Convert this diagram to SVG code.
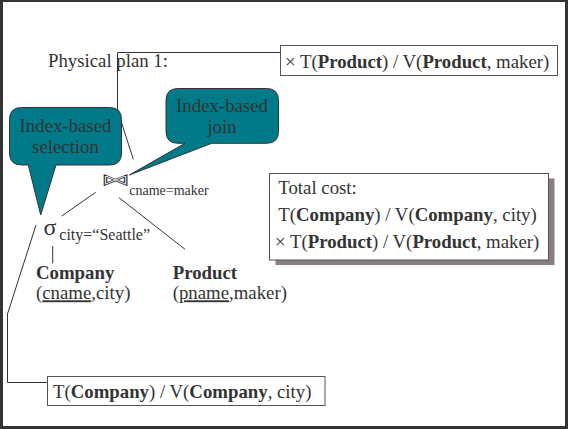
<svg xmlns="http://www.w3.org/2000/svg" width="568" height="429" viewBox="0 0 568 429">
  <style>
    text { font-family: "Liberation Serif", "Times New Roman", serif; fill: #333; }
    .t { font-size: 18.8px; }
    .sub { font-size: 14px; }
    .b { font-weight: bold; }
    .edge { fill: none; stroke: #333; stroke-width: 1; }
    .box { fill: #fff; stroke: #555; stroke-width: 1; }
    .callout { fill: #007a89; stroke: #333; stroke-width: 1; stroke-linejoin: round; }
    .mid { text-anchor: middle; }
    .bowtie { font-family: "DejaVu Sans", sans-serif; font-size: 22px; fill: none; stroke: #333; stroke-width: 1; }
  </style>

  <!-- slide frame -->
  <rect x="1.5" y="0.5" width="565" height="427" fill="#fff" stroke="#333" stroke-width="3"/>

  <text id="title" class="t" x="48" y="67">Physical plan 1:</text>

  <!-- connectors -->
  <g id="connectors">
    <!-- cost note of the join -->
    <polyline class="edge" points="280.5,52.5 117.5,52.5 117.5,110 133.3,159.3"/>
    <!-- cost note of the selection -->
    <polyline class="edge" points="47.5,382.5 7.5,382.5 7.5,314 36,225"/>
    <!-- plan tree edges -->
    <line class="edge" x1="61.7" y1="216" x2="95.7" y2="192.3"/>
    <line class="edge" x1="119" y1="197.7" x2="185" y2="249.3"/>
    <line class="edge" x1="52.7" y1="246" x2="52.7" y2="263.3"/>
  </g>

  <!-- join operator -->
  <g id="join">
    <text class="bowtie" transform="translate(115.5,180) scale(1.3,0.72)" x="0" y="7" text-anchor="middle" vector-effect="non-scaling-stroke">⋈</text>
    <text class="sub" x="129.3" y="195">cname=maker</text>
  </g>

  <!-- selection operator -->
  <g id="selection">
    <text x="43.5" y="235" style="font-size: 24px;">σ</text>
    <text x="59.3" y="240" style="font-size: 16px;">city=“Seattle”</text>
  </g>

  <g id="company">
    <text class="t b" x="36" y="279.3">Company</text>
    <text class="t" x="36" y="299.3">(<tspan text-decoration="underline">cname</tspan>,city)</text>
  </g>

  <g id="product">
    <text class="t b" x="172.7" y="279.3">Product</text>
    <text class="t" x="172.7" y="299.3">(<tspan text-decoration="underline">pname</tspan>,maker)</text>
  </g>

  <!-- cost annotations -->
  <g id="join-cost">
    <rect class="box" x="280.5" y="45.5" width="277" height="30"/>
    <text class="t" x="285" y="68">× T(<tspan class="b">Product</tspan>) / V(<tspan class="b">Product</tspan>, maker)</text>
  </g>

  <g id="selection-cost">
    <rect class="box" x="47.5" y="376.5" width="277.5" height="29"/>
    <text class="t" x="53" y="398.3">T(<tspan class="b">Company</tspan>) / V(<tspan class="b">Company</tspan>, city)</text>
  </g>

  <g id="total-cost">
    <rect x="275.5" y="178.5" width="279" height="86.5" fill="#8a7e7e"/>
    <rect class="box" x="269.5" y="173.5" width="279" height="86.5"/>
    <text class="t" x="278.3" y="194.3">Total cost:</text>
    <text class="t" x="278.3" y="221">T(<tspan class="b">Company</tspan>) / V(<tspan class="b">Company</tspan>, city)</text>
    <text class="t" x="275" y="247.7">× T(<tspan class="b">Product</tspan>) / V(<tspan class="b">Product</tspan>, maker)</text>
  </g>

  <!-- callouts -->
  <g id="callout-selection">
    <path class="callout" d="M21.5,107.5 H109.5 Q121.5,107.5 121.5,119.5 V153 Q121.5,165 109.5,165 H56 L40.7,215 L28.3,165 H21.5 Q9.5,165 9.5,153 V119.5 Q9.5,107.5 21.5,107.5 Z"/>
    <text class="t mid" x="65.5" y="131.7">Index-based</text>
    <text class="t mid" x="65.5" y="153.3">selection</text>
  </g>

  <g id="callout-join">
    <path class="callout" d="M178,88.5 H266.5 Q278.5,88.5 278.5,100.5 V131.3 Q278.5,143.3 266.5,143.3 H211.7 L129.3,175 L185,143.3 H178 Q166,143.3 166,131.3 V100.5 Q166,88.5 178,88.5 Z"/>
    <text class="t mid" x="222" y="111.7">Index-based</text>
    <text class="t mid" x="222" y="133.3">join</text>
  </g>
</svg>
